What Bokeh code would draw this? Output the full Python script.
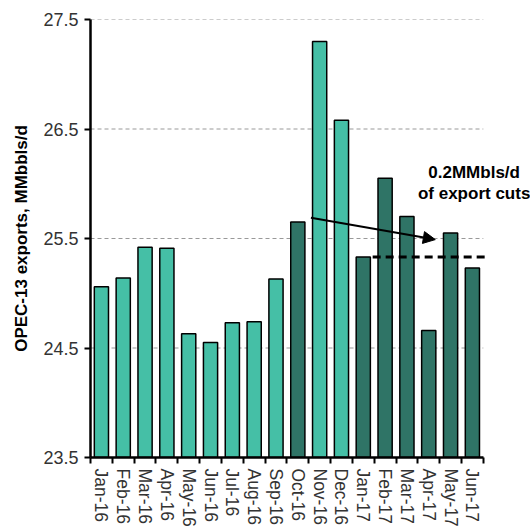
from bokeh.plotting import figure
from bokeh.models import (Range1d, FixedTicker, Arrow, NormalHead, Label, ColumnDataSource,
                          CustomJSTickFormatter)
from bokeh.embed import file_html
from bokeh.resources import INLINE

months = ["Jan-16", "Feb-16", "Mar-16", "Apr-16", "May-16", "Jun-16", "Jul-16", "Aug-16",
          "Sep-16", "Oct-16", "Nov-16", "Dec-16", "Jan-17", "Feb-17", "Mar-17", "Apr-17",
          "May-17", "Jun-17"]
exports = [25.06, 25.14, 25.42, 25.41, 24.63, 24.55, 24.73, 24.74, 25.13, 25.65,
           27.30, 26.58, 25.33, 26.05, 25.70, 24.66, 25.55, 25.23]
cut_period = [False, False, False, False, False, False, False, False, False, True,
              False, False, True, True, True, True, True, True]
y_ticks = [23.5, 24.5, 25.5, 26.5, 27.5]
cut_level = 25.33
arrow_from = (10.1, 25.69)
arrow_to = (15.8, 25.49)
note_lines = ["0.2MMbls/d", "of export cuts"]
note_y = [26.10, 25.915]

LIGHT = "#45BFA6"
DARK = "#2F7466"

n = len(months)
centers = [i + 0.5 for i in range(n)]
src = ColumnDataSource(dict(
    x=centers, top=exports,
    color=[DARK if c else LIGHT for c in cut_period]))

# frame spans to the right window edge so the note is not clipped;
# axis and grid are bounded to the 18 categories
x_end = n * 440.0 / 392.8
p = figure(width=530, height=529, output_backend="svg", toolbar_location=None,
           x_range=Range1d(0, x_end), y_range=Range1d(23.5, 27.5),
           min_border_left=90, min_border_right=0, min_border_top=19, min_border_bottom=71)
p.outline_line_color = None
p.background_fill_color = "white"

# grid lines
p.segment(x0=[0] * len(y_ticks), y0=y_ticks, x1=[n] * len(y_ticks), y1=y_ticks,
          line_color="#999999", line_width=1, line_dash="4 3")

p.vbar(x="x", top="top", bottom=23.5, width=0.65, source=src,
       fill_color="color", line_color="black", line_width=1.5)

# axes
p.yaxis.ticker = FixedTicker(ticks=y_ticks)
p.yaxis.formatter = CustomJSTickFormatter(code="return tick.toFixed(1);")
p.yaxis.axis_line_color = "black"
p.yaxis.axis_line_width = 2.5
p.yaxis.major_tick_line_color = "black"
p.yaxis.major_tick_line_width = 2
p.yaxis.major_tick_out = 6
p.yaxis.major_tick_in = 0
p.yaxis.minor_tick_line_color = None
p.yaxis.major_label_text_font = "Liberation Sans"
p.yaxis.major_label_text_font_size = "18px"
p.yaxis.major_label_text_color = "#333333"
p.yaxis.major_label_standoff = 6
p.yaxis.axis_label = "OPEC-13 exports, MMbbls/d"
p.yaxis.axis_label_text_font = "Liberation Sans"
p.yaxis.axis_label_text_font_style = "bold"
p.yaxis.axis_label_text_font_size = "17px"
p.yaxis.axis_label_text_color = "black"
p.yaxis.axis_label_standoff = 9

p.xaxis.bounds = (0, n)
p.xaxis.ticker = FixedTicker(ticks=centers, minor_ticks=list(range(n + 1)))
p.xaxis.major_label_overrides = {c: m for c, m in zip(centers, months)}
p.xaxis.major_label_orientation = "vertical"
p.xaxis.major_label_text_font = "Liberation Sans"
p.xaxis.major_label_text_font_size = "17.5px"
p.xaxis.major_label_text_color = "#333333"
p.xaxis.major_label_standoff = 5
p.xaxis.axis_line_color = "black"
p.xaxis.axis_line_width = 2.5
p.xaxis.major_tick_line_color = None
p.xaxis.major_tick_out = 6
p.xaxis.minor_tick_line_color = "black"
p.xaxis.minor_tick_line_width = 2
p.xaxis.minor_tick_out = 6
p.xaxis.minor_tick_in = 0

p.xgrid.grid_line_color = None
p.ygrid.grid_line_color = None

# dashed reference line after Jan-17
p.segment(x0=[12.93], y0=[cut_level], x1=[n + 0.07], y1=[cut_level],
          line_color="black", line_width=3, line_dash="8 5")

p.add_layout(Arrow(end=NormalHead(size=12, fill_color="black", line_color="black"),
                   x_start=arrow_from[0], y_start=arrow_from[1],
                   x_end=arrow_to[0], y_end=arrow_to[1],
                   line_color="black", line_width=2))

for t, yy in zip(note_lines, note_y):
    p.add_layout(Label(x=17.58, y=yy, text=t, text_align="center",
                       text_baseline="middle", text_font="Liberation Sans",
                       text_font_style="bold", text_font_size="17px", text_color="black"))

open("out.html", "w").write(file_html(p, INLINE))
